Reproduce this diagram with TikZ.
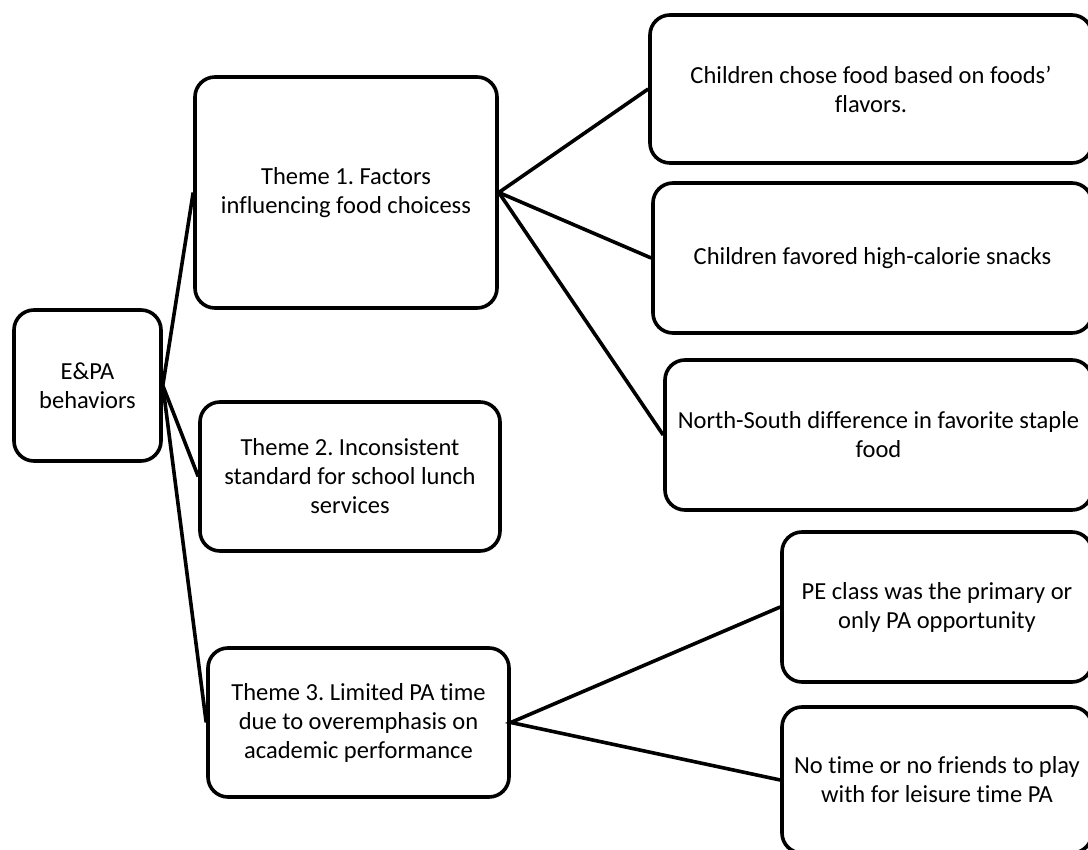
\documentclass[tikz,border=0pt]{standalone}
\usepackage{fontspec}
\setmainfont{Carlito}[RawFeature={-liga}]
\usetikzlibrary{positioning}
\frenchspacing

\begin{document}
\begin{tikzpicture}[
    x=1pt, y=-1pt,
    box/.style={rectangle, draw, line width=3.6pt, rounded corners=20pt, fill=white, align=center, font=\fontsize{24.5}{29}\selectfont, inner sep=0pt},
    link/.style={line width=3.6pt}
]
    \useasboundingbox (0,0) rectangle (1088,850);
    % root and themes
    \node[box, minimum width=147pt, minimum height=151pt] (epa) at (87.5,385.5) {E\&PA\\behaviors};
    \node[box, minimum width=302pt, minimum height=231pt] (t1) at (346,192.5) {Theme 1. Factors\\influencing food choicess};
    \node[box, minimum width=300pt, minimum height=149pt] (t2) at (350,476.5) {Theme 2. Inconsistent\\standard for school lunch\\services};
    \node[box, minimum width=301pt, minimum height=149pt] (t3) at (358.5,722.5) {Theme 3. Limited PA time\\due to overemphasis on\\academic performance};
    % sub-themes (cut off at the right edge)
    \node[box, minimum width=442pt, minimum height=148pt] (c1) at (871,89) {Children chose food based on foods’\\flavors.};
    \node[box, minimum width=439pt, minimum height=150pt] (c2) at (872.5,258) {Children favored high-calorie snacks};
    \node[box, minimum width=427pt, minimum height=150pt] (c3) at (878.5,435) {North-South difference in favorite staple\\food};
    \node[box, minimum width=310pt, minimum height=150pt] (pe) at (937,607) {PE class was the primary or\\only PA opportunity};
    \node[box, minimum width=310pt, minimum height=146pt] (nt) at (937,780) {No time or no friends to play\\with for leisure time PA};

    \draw[link] (t1.west) -- (epa.east) -- (t2.west);
    \draw[link] (epa.east) -- (t3.west);
    \draw[link] (c1.west) -- (t1.east) -- (c2.west);
    \draw[link] (t1.east) -- (c3.west);
    \draw[link] (pe.west) -- (t3.east) -- (nt.west);
\end{tikzpicture}
\end{document}
